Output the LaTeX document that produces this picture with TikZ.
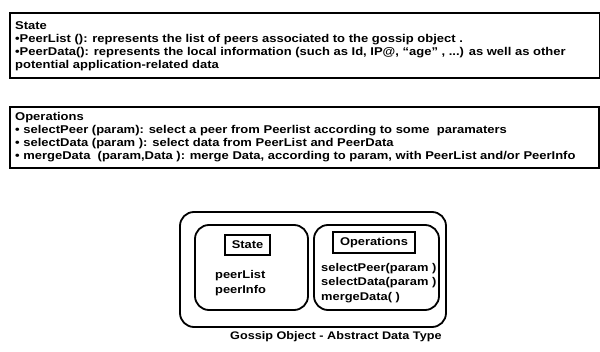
\documentclass[tikz,border=0pt]{standalone}
\usepackage{fontspec}
\setmainfont{Liberation Sans}[FakeStretch=1.15]
\begin{document}
\begin{tikzpicture}[x=1pt,y=-1pt,
  panel/.style={draw, line width=2pt, minimum width=#1, minimum height=65pt, inner sep=0pt, anchor=north west},
  paneltext/.style={anchor=north west, inner sep=0pt, align=left, font=\bfseries\fontsize{11.3}{13}\selectfont},
  rbox/.style={draw, line width=1.8pt, rounded corners=14pt, inner sep=0pt},
  tbox/.style={draw, line width=1.8pt, inner sep=0pt, font=\bfseries\fontsize{11.2}{14}\selectfont},
  lbl/.style={inner sep=0pt, align=left, font=\bfseries\fontsize{11.2}{14.5}\selectfont}
]
\useasboundingbox (0,0) rectangle (600,352);
% top panels
\node[panel=590pt] (p1) at (9,12) {};
\node[paneltext] (t1) at (15,21) {State\\
•PeerList (): represents the list of peers associated to the gossip object .\\
•PeerData(): represents the local information (such as Id, IP@, “age” , ...) as well as other\\
potential application-related data};
\node[panel=589pt, minimum height=61pt] (p2) at (9,106) {};
\node[paneltext] (t2) at (15,112) {Operations\\
• selectPeer (param): select a peer from Peerlist according to some\ \ paramaters\\
• selectData (param ): select data from PeerList and PeerData\\
• mergeData\ \ (param,Data ): merge Data, according to param, with PeerList and/or PeerInfo};
% abstract data type
\node[rbox, minimum width=266pt, minimum height=115pt] (outer) at (313,269.5) {};
\node[rbox, minimum width=113pt, minimum height=85pt] (left) at (251.5,267.5) {};
\node[rbox, minimum width=125pt, minimum height=85pt] (right) at (376.5,267.5) {};
\node[tbox, minimum width=45pt, minimum height=20pt] (state) at (247.5,245) {State};
\node[tbox, minimum width=82pt, minimum height=21pt] (ops) at (374,242.5) {Operations};
\node[lbl, anchor=west] (sv) at (215,283) {peerList\\peerInfo};
\node[lbl, anchor=west] (ov) at (321,283) {selectPeer(param )\\selectData(param )\\mergeData( )};
\node[inner sep=0pt, anchor=west, font=\bfseries\fontsize{11}{12}\selectfont] (cap) at (230,337) {Gossip Object - Abstract Data Type};
\end{tikzpicture}
\end{document}
